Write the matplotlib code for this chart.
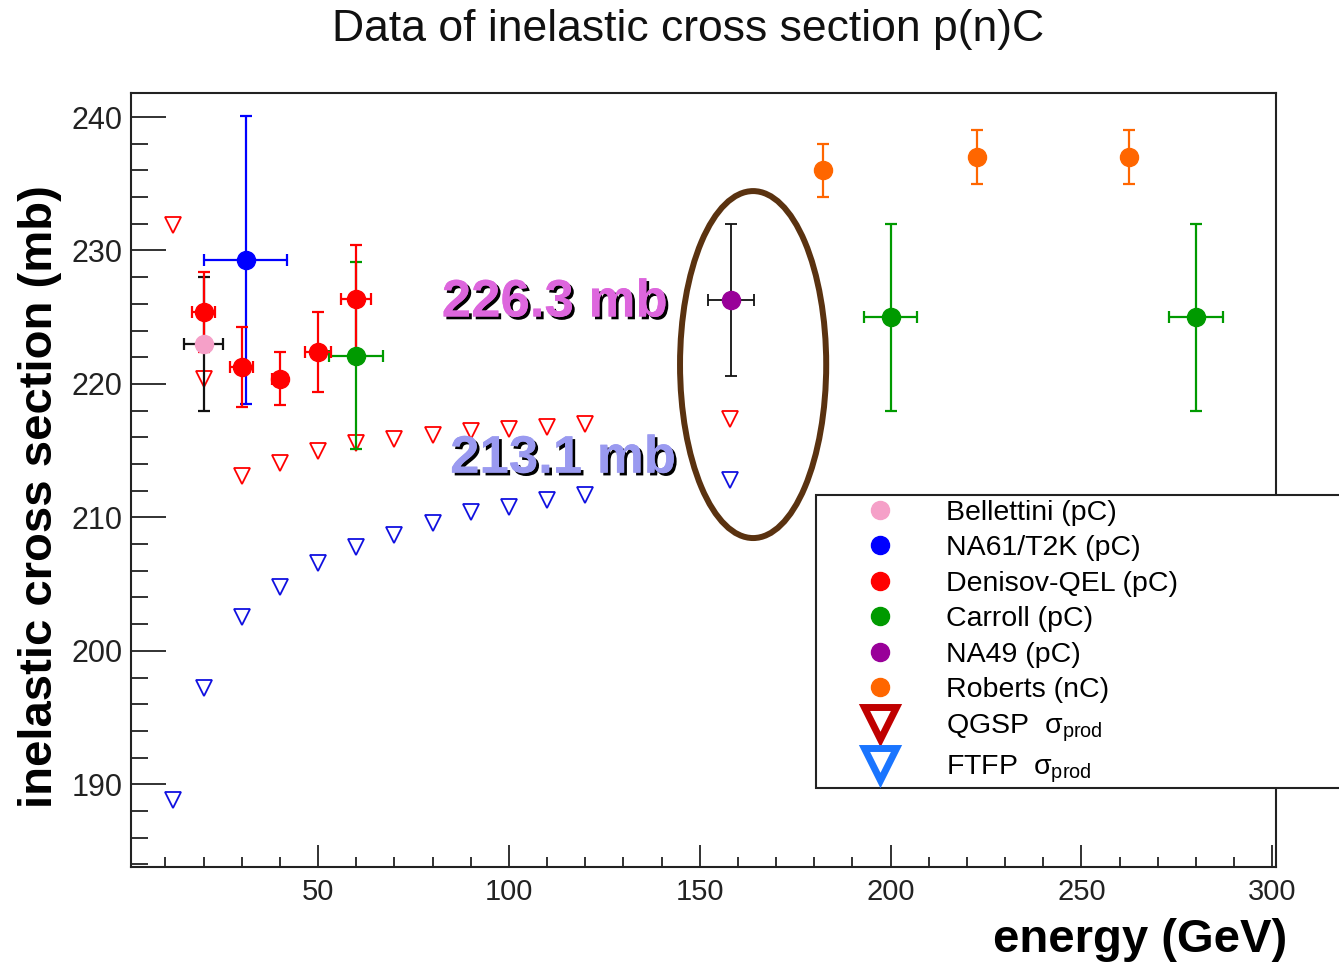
import matplotlib
matplotlib.use("Agg")
import matplotlib.pyplot as plt
import matplotlib.patheffects as pe
from matplotlib.patches import Ellipse, Rectangle
from matplotlib.lines import Line2D
from matplotlib.ticker import MultipleLocator

plt.rcParams['font.family'] = ['Liberation Sans', 'DejaVu Sans']
plt.rcParams['mathtext.fontset'] = 'custom'
plt.rcParams['mathtext.rm'] = 'Liberation Sans'

# Model predictions (production cross section)
model_e = [12, 20, 30, 40, 50, 60, 70, 80, 90, 100, 110, 120, 158]
qgsp = [231.9, 220.4, 213.1, 214.1, 215.0, 215.6, 215.9, 216.2, 216.5, 216.6, 216.8, 217.0, 217.4]
ftfp = [188.8, 197.2, 202.5, 204.8, 206.6, 207.8, 208.7, 209.6, 210.4, 210.8, 211.3, 211.7, 212.8]

# Measurements
bell_e, bell_s, bell_de, bell_ds = [20], [223.0], [5], [5.0]
na61_e, na61_s, na61_de, na61_ds = [31], [229.3], [10.8], [10.8]
den_e = [20, 30, 40, 50, 60]
den_s = [225.4, 221.3, 220.4, 222.4, 226.4]
den_de = [3, 3, 2, 3.3, 4]
den_ds = [3.0, 3.0, 2.0, 3.0, 4.0]
car_e, car_s, car_de, car_ds = [60, 200, 280], [222.1, 225.0, 225.0], [7, 7, 7], [7.0, 7.0, 7.0]
na49_e, na49_s, na49_de, na49_ds = [158.3], [226.3], [6], [5.7]
rob_e, rob_s, rob_ds = [182.2, 222.7, 262.5], [236.0, 237.0, 237.0], [2.0, 2.0, 2.0]

W, H = 1339, 965
fig = plt.figure(figsize=(W / 100, H / 100), dpi=100)
ax = fig.add_axes([131 / W, 1 - 867 / H, (1276 - 131) / W, (867 - 93) / H])

ax.plot(model_e, qgsp, ls='none', marker='v', ms=11, mfc='none', mec='red', mew=1.3, zorder=2)
ax.plot(model_e, ftfp, ls='none', marker='v', ms=11, mfc='none', mec='#1010e0', mew=1.3, zorder=2)

eb = dict(fmt='o', ms=13, elinewidth=1.6, capsize=4, capthick=1.6, zorder=3)
ax.errorbar(bell_e, bell_s, xerr=bell_de, yerr=bell_ds, color='#f5a0c8', ecolor='#111111', **eb)
ax.errorbar(na61_e, na61_s, xerr=na61_de, yerr=na61_ds, color='#0000ff', **eb)
ax.errorbar(car_e, car_s, xerr=car_de, yerr=car_ds, color='#009a00', **eb)
ax.errorbar(den_e, den_s, xerr=den_de, yerr=den_ds, color='#ff0000', **eb)
ax.errorbar(na49_e, na49_s, xerr=na49_de, yerr=na49_ds, color='#990099', ecolor='#111111',
            fmt='o', ms=13, elinewidth=1.3, capsize=4, capthick=1.3, zorder=3)
ax.errorbar(rob_e, rob_s, yerr=rob_ds, color='#ff6600', **eb)

ax.add_patch(Ellipse((164.0, 221.45), 38.3, 26.0, fill=False, ec='#5a3210', lw=4.3, zorder=4))

shadow = [pe.withSimplePatchShadow(offset=(2, -2), shadow_rgbFace='black', alpha=1.0), pe.Normal()]
ax.text(112, 226.1, "226.3 mb", color='#dd66dd', fontsize=38, fontweight='bold',
        ha='center', va='center', path_effects=shadow, zorder=5)
ax.text(114.2, 214.4, "213.1 mb", color='#9a9af0', fontsize=38, fontweight='bold',
        ha='center', va='center', path_effects=shadow, zorder=5)

ax.set_xlim(1, 301)
ax.set_ylim(183.8, 241.8)
ax.xaxis.set_major_locator(MultipleLocator(50))
ax.xaxis.set_minor_locator(MultipleLocator(10))
ax.yaxis.set_major_locator(MultipleLocator(10))
ax.yaxis.set_minor_locator(MultipleLocator(2))
ax.tick_params(axis='both', which='both', direction='in', colors='#222222', width=1.3)
ax.tick_params(axis='y', which='major', length=25, labelsize=22, pad=6)
ax.tick_params(axis='y', which='minor', length=12)
ax.tick_params(axis='x', which='major', length=16, labelsize=21, pad=8)
ax.tick_params(axis='x', which='minor', length=7)
for sp in ax.spines.values():
    sp.set_linewidth(1.5)
    sp.set_color('#222222')

fig.text(688 / W, 1 - 29 / H, "Data of inelastic cross section p(n)C", fontsize=32,
         ha='center', va='center', color='#111111')
fig.text(40 / W, 1 - 497 / H, "inelastic cross section (mb)", fontsize=34, fontweight='bold',
         rotation=90, ha='center', va='center')
fig.text(1287 / W, 1 - 940 / H, "energy (GeV)", fontsize=34, fontweight='bold',
         ha='right', va='center')

# Legend box runs off the right edge of the figure
fig.patches.append(Rectangle((816 / W, 1 - 788 / H), (1360 - 816) / W, (788 - 495) / H,
                             transform=fig.transFigure, fc='white', ec='#222222', lw=1.5,
                             zorder=6, clip_on=False))

labels = ["Bellettini (pC)", "NA61/T2K (pC)", "Denisov-QEL (pC)", "Carroll (pC)",
          "NA49 (pC)", "Roberts (nC)", r"QGSP  σ$_{\mathregular{prod}}$", r"FTFP  σ$_{\mathregular{prod}}$"]
colors = ['#f5a0c8', '#0000ff', '#ff0000', '#009a00', '#990099', '#ff6600']
handles = [Line2D([], [], ls='none', marker='o', ms=13, color=c) for c in colors]
handles.append(Line2D([], [], ls='none', marker='v', ms=23, mfc='none', mec='#c00000', mew=5))
handles.append(Line2D([], [], ls='none', marker='v', ms=23, mfc='none', mec='#1a75ff', mew=5))
leg = fig.legend(handles, labels, loc='upper left', bbox_to_anchor=(852 / W, 1 - 500 / H),
                 frameon=False, fontsize=20.5, handlelength=2.0, handletextpad=1.3,
                 borderpad=0, borderaxespad=0, labelspacing=0.33)
leg.set_zorder(7)

fig.savefig("out.png", dpi=100)
